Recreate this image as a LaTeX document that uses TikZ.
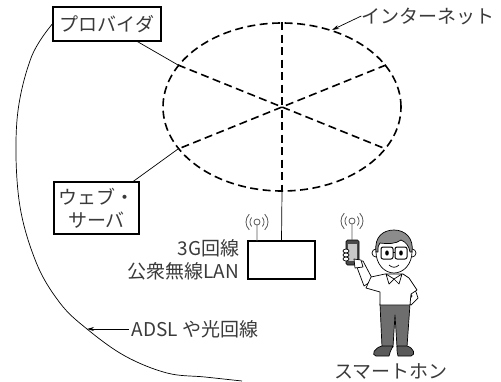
\documentclass[tikz,border=0pt]{standalone}
\usepackage{fontspec}
\setmainfont{Noto Sans CJK JP}
\usetikzlibrary{arrows.meta,positioning,shapes.geometric}
\definecolor{ink}{HTML}{3A3A3A}
\definecolor{hairgray}{HTML}{8C8C8C}
\definecolor{pantsgray}{HTML}{6E6E6E}
\definecolor{shoegray}{HTML}{5A5A5A}
\definecolor{phonegray}{HTML}{4A4A4A}
\definecolor{screengray}{HTML}{C8C8C8}

\begin{document}
\begin{tikzpicture}[
  x=1pt, y=-1pt,
  font=\fontsize{19}{23}\selectfont,
  txt/.style={text=ink, inner sep=0pt},
  box/.style={draw, line width=1.4pt, text=ink, align=center, inner sep=2pt},
  netline/.style={line width=1.6pt, dash pattern=on 8pt off 4.5pt},
  link/.style={line width=0.7pt},
  arrow/.style={-{Stealth[length=7pt,width=4pt]}, line width=0.7pt},
  radio/.pic={
    \draw[ink!85, line width=0.8pt] (0,0) circle (3pt) (0,3) -- (0,19);
    \draw[ink!85, line width=0.8pt]
      (140:7) arc[start angle=140, end angle=220, radius=7]
      (135:11) arc[start angle=135, end angle=225, radius=11]
      (-40:7) arc[start angle=-40, end angle=40, radius=7]
      (-45:11) arc[start angle=-45, end angle=45, radius=11];
  }
]
  \useasboundingbox (0,0) rectangle (501,381);

  % the internet
  \node[ellipse, netline, draw, minimum width=238pt, minimum height=168pt, inner sep=0pt] (net) at (282,107) {};
  \draw[netline] (net.90) -- (net.270);
  \draw[netline] (net.22) -- (net.202);
  \draw[netline] (net.158) -- (net.338);
  \node[txt] (inet) at (428,16) {インターネット};
  \draw[arrow] (inet.west) -- (net.57);

  % servers
  \node[box, minimum width=108pt, minimum height=34pt] (provider) at (107,24) {プロバイダ};
  \node[box, minimum width=85pt, minimum height=52pt] (webserver) at (96.5,208) {ウェブ・\\サーバ};
  \draw[link] (provider) -- (net.158);
  \draw[link] (webserver) -- (net.202);

  % access point
  \node[draw, line width=1.4pt, minimum width=67pt, minimum height=38pt] (router) at (281.5,260) {};
  \node[txt, align=right, left=8pt of router] (routerlabel) {3G回線\\公衆無線LAN};
  \draw[link] (net.270) -- (router.north);
  \pic at (257,222) {radio};

  % fixed line
  \coordinate (adslhit) at (87,329);
  \coordinate (adslend) at (242,381);
  \draw[link] plot[smooth, tension=0.6] coordinates {(provider.west) (31,58) (17,120) (19,200) (36,262) (60,303) (adslhit) (125,356) (167,373) (205,377) (adslend)};
  \node[txt] (adsl) at (195,329) {ADSL や光回線};
  \draw[arrow] ([xshift=-3pt]adsl.west) -- (adslhit);

  % smartphone user
  \begin{scope}[line width=0.7pt, line join=round]
    \draw[fill=pantsgray] (380,304) -- (410,304) -- (407,347) -- (397,347) -- (395,315) -- (393,347) -- (382,347) -- cycle;
    \draw[fill=shoegray] (382,346) .. controls (374,348) and (371,355) .. (376,356) -- (389,356) .. controls (390,352) .. (393,346) -- cycle;
    \draw[fill=shoegray] (397,346) .. controls (397,352) .. (398,356) -- (411,356) .. controls (416,355) and (414,348) .. (407,346) -- cycle;
    % arms
    \draw[fill=white] (407,280) -- (416,292) -- (418,298) -- (411,305) -- (408,301) -- (412,296) -- (408,290) -- cycle;
    \draw[fill=white] (355,262) -- (363,261) -- (373,280) -- (364,286) -- cycle;
    % shirt
    \draw[fill=white] (385,274) -- (403,274) -- (409,278) -- (417,290) -- (411,294) -- (410,305) -- (380,305) -- (380,292) -- (366,288) -- (371,277) -- cycle;
    \draw[fill=white] (386,274) -- (394,279) -- (389,284) -- cycle;
    \draw[fill=white] (402,274) -- (394,279) -- (399,284) -- cycle;
    % phone in hand
    \draw[fill=phonegray, rounded corners=1.5pt] (346,240) rectangle (359,265);
    \fill[screengray] (348,244) rectangle (357,261);
    \foreach \fy in {251,255,259}
      \draw[fill=white] (346,\fy) ellipse [x radius=3, y radius=2];
    \draw[fill=white] (354,259) -- (361,260) -- (363,267) -- (355,268) -- cycle;
    % head
    \draw[fill=white] (376,253) circle (4);
    \draw[fill=white] (412,253) circle (4);
    \draw[fill=white] (394,252) ellipse [x radius=18, y radius=21];
    \draw[fill=hairgray] (376,252) .. controls (374,236) and (384,230) .. (394,230) .. controls (405,230) and (414,238) .. (412,252) -- (410,252) .. controls (409,246) and (406,242) .. (401,240) .. controls (396,244) and (388,244) .. (380,243) .. controls (378,246) .. (378,252) -- cycle;
    \draw[line width=1pt, rounded corners=2pt] (381,247) rectangle (393,259) (395,247) rectangle (407,259);
    \draw[line width=1pt] (393,252) -- (395,252);
    \fill (387,253) ellipse [x radius=1.8, y radius=2.6] (401,253) ellipse [x radius=1.8, y radius=2.6];
    \draw (389,265) .. controls (392,268) and (396,268) .. (399,265);
  \end{scope}
  \pic at (352,221) {radio};
  \node[txt] (phonelabel) at (391,371) {スマートホン};
\end{tikzpicture}
\end{document}
